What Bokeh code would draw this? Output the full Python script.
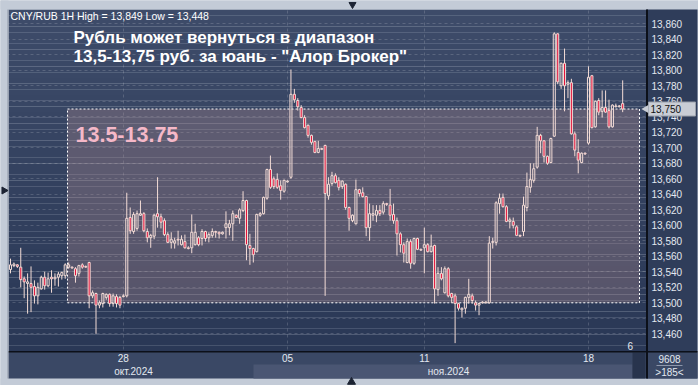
import numpy as np
from bokeh.plotting import figure
from bokeh.models import Range1d, FixedTicker, Grid, Label
from bokeh.core.properties import value
from bokeh.embed import file_html
from bokeh.resources import INLINE

# ---------------- data (CNY/RUB, 1H candles) ----------------
open_ = [13.543, 13.548, 13.549, 13.546, 13.531, 13.525, 13.525, 13.521, 13.509, 13.518,
         13.533, 13.522, 13.533, 13.531, 13.533, 13.535, 13.535, 13.546, 13.546, 13.544,
         13.538, 13.549, 13.547, 13.552, 13.509, 13.512, 13.497, 13.499, 13.507, 13.511,
         13.499, 13.508, 13.507, 13.508, 13.509, 13.610, 13.592, 13.596, 13.613, 13.615,
         13.592, 13.584, 13.586, 13.615, 13.611, 13.606, 13.588, 13.578, 13.577, 13.582,
         13.575, 13.579, 13.571, 13.571, 13.575, 13.584, 13.583, 13.592, 13.584, 13.587,
         13.592, 13.591, 13.589, 13.597, 13.597, 13.602, 13.613, 13.609, 13.619, 13.632,
         13.574, 13.570, 13.566, 13.613, 13.615, 13.635, 13.672, 13.660, 13.659, 13.651,
         13.644, 13.656, 13.662, 13.769, 13.761, 13.752, 13.739, 13.729, 13.716, 13.708,
         13.694, 13.699, 13.703, 13.638, 13.654, 13.664, 13.658, 13.650, 13.653, 13.623,
         13.606, 13.602, 13.646, 13.642, 13.637, 13.597, 13.613, 13.613, 13.619, 13.617,
         13.628, 13.626, 13.614, 13.606, 13.589, 13.575, 13.552, 13.579, 13.551, 13.583,
         13.569, 13.571, 13.575, 13.566, 13.574, 13.517, 13.538, 13.513, 13.544, 13.512,
         13.509, 13.499, 13.491, 13.493, 13.507, 13.509, 13.500, 13.497, 13.500, 13.500,
         13.500, 13.578, 13.578, 13.628, 13.636, 13.624, 13.605, 13.605, 13.598, 13.587,
         13.592, 13.623, 13.649, 13.658, 13.675, 13.716, 13.709, 13.689, 13.681, 13.715,
         13.847, 13.780, 13.809, 13.782, 13.784, 13.718, 13.694, 13.681, 13.693, 13.706,
         13.793, 13.727, 13.761, 13.747, 13.752, 13.748, 13.727, 13.753, 13.753, 13.757]
high = [13.557, 13.552, 13.550, 13.571, 13.534, 13.538, 13.547, 13.529, 13.526, 13.535,
        13.540, 13.539, 13.542, 13.538, 13.540, 13.540, 13.551, 13.552, 13.547, 13.546,
        13.549, 13.551, 13.548, 13.553, 13.516, 13.513, 13.503, 13.513, 13.512, 13.512,
        13.512, 13.511, 13.509, 13.511, 13.642, 13.623, 13.617, 13.619, 13.632, 13.617,
        13.596, 13.589, 13.615, 13.662, 13.615, 13.609, 13.591, 13.591, 13.584, 13.593,
        13.587, 13.588, 13.573, 13.614, 13.602, 13.586, 13.595, 13.593, 13.591, 13.596,
        13.593, 13.592, 13.592, 13.618, 13.607, 13.619, 13.614, 13.622, 13.644, 13.633,
        13.589, 13.571, 13.615, 13.617, 13.637, 13.673, 13.690, 13.663, 13.667, 13.658,
        13.659, 13.658, 13.801, 13.776, 13.764, 13.755, 13.742, 13.730, 13.717, 13.709,
        13.709, 13.700, 13.704, 13.662, 13.669, 13.667, 13.662, 13.658, 13.654, 13.624,
        13.614, 13.659, 13.647, 13.649, 13.638, 13.628, 13.626, 13.626, 13.626, 13.631,
        13.629, 13.647, 13.628, 13.610, 13.591, 13.578, 13.583, 13.582, 13.584, 13.584,
        13.570, 13.597, 13.577, 13.588, 13.575, 13.546, 13.546, 13.547, 13.546, 13.513,
        13.512, 13.500, 13.494, 13.508, 13.531, 13.512, 13.503, 13.500, 13.502, 13.502,
        13.586, 13.584, 13.631, 13.641, 13.641, 13.626, 13.610, 13.610, 13.600, 13.588,
        13.637, 13.668, 13.680, 13.680, 13.727, 13.718, 13.710, 13.690, 13.713, 13.849,
        13.848, 13.810, 13.828, 13.787, 13.789, 13.721, 13.711, 13.694, 13.694, 13.805,
        13.794, 13.761, 13.764, 13.774, 13.774, 13.762, 13.756, 13.757, 13.755, 13.787]
low = [13.538, 13.546, 13.545, 13.520, 13.506, 13.486, 13.488, 13.499, 13.498, 13.517,
       13.517, 13.520, 13.513, 13.522, 13.521, 13.530, 13.531, 13.544, 13.544, 13.526,
       13.534, 13.544, 13.545, 13.493, 13.506, 13.460, 13.493, 13.494, 13.504, 13.495,
       13.495, 13.494, 13.493, 13.507, 13.507, 13.589, 13.589, 13.593, 13.612, 13.591,
       13.578, 13.571, 13.582, 13.597, 13.596, 13.586, 13.577, 13.570, 13.570, 13.574,
       13.574, 13.570, 13.569, 13.564, 13.574, 13.573, 13.574, 13.579, 13.578, 13.584,
       13.584, 13.583, 13.588, 13.583, 13.587, 13.580, 13.609, 13.602, 13.617, 13.555,
       13.549, 13.552, 13.565, 13.611, 13.614, 13.633, 13.647, 13.647, 13.647, 13.633,
       13.642, 13.655, 13.660, 13.758, 13.748, 13.738, 13.725, 13.713, 13.704, 13.693,
       13.693, 13.697, 13.509, 13.633, 13.651, 13.654, 13.645, 13.647, 13.620, 13.593,
       13.604, 13.601, 13.637, 13.636, 13.586, 13.580, 13.606, 13.604, 13.612, 13.614,
       13.625, 13.606, 13.602, 13.561, 13.565, 13.552, 13.551, 13.544, 13.549, 13.568,
       13.567, 13.538, 13.565, 13.565, 13.499, 13.509, 13.529, 13.512, 13.507, 13.500,
       13.448, 13.490, 13.481, 13.486, 13.499, 13.499, 13.490, 13.484, 13.499, 13.499,
       13.499, 13.570, 13.574, 13.615, 13.623, 13.604, 13.596, 13.596, 13.586, 13.585,
       13.586, 13.618, 13.642, 13.655, 13.673, 13.693, 13.681, 13.678, 13.680, 13.714,
       13.782, 13.776, 13.747, 13.764, 13.717, 13.689, 13.667, 13.680, 13.691, 13.704,
       13.725, 13.726, 13.742, 13.739, 13.745, 13.725, 13.726, 13.752, 13.752, 13.746]
close = [13.549, 13.550, 13.547, 13.530, 13.527, 13.527, 13.520, 13.509, 13.520, 13.533,
         13.522, 13.531, 13.531, 13.533, 13.537, 13.539, 13.549, 13.549, 13.545, 13.535,
         13.548, 13.546, 13.546, 13.509, 13.513, 13.497, 13.500, 13.512, 13.511, 13.499,
         13.509, 13.499, 13.497, 13.509, 13.609, 13.593, 13.614, 13.615, 13.615, 13.593,
         13.584, 13.587, 13.613, 13.611, 13.604, 13.588, 13.578, 13.582, 13.580, 13.581,
         13.582, 13.571, 13.570, 13.591, 13.591, 13.575, 13.592, 13.583, 13.588, 13.592,
         13.591, 13.589, 13.591, 13.602, 13.602, 13.615, 13.610, 13.620, 13.632, 13.575,
         13.570, 13.562, 13.614, 13.615, 13.636, 13.672, 13.649, 13.650, 13.649, 13.645,
         13.658, 13.657, 13.769, 13.762, 13.753, 13.739, 13.726, 13.716, 13.707, 13.694,
         13.699, 13.698, 13.641, 13.653, 13.664, 13.655, 13.649, 13.657, 13.623, 13.609,
         13.613, 13.646, 13.641, 13.637, 13.597, 13.615, 13.615, 13.619, 13.615, 13.628,
         13.627, 13.613, 13.606, 13.589, 13.575, 13.564, 13.579, 13.551, 13.583, 13.569,
         13.568, 13.575, 13.566, 13.573, 13.518, 13.538, 13.531, 13.544, 13.509, 13.507,
         13.499, 13.493, 13.493, 13.507, 13.511, 13.503, 13.497, 13.499, 13.501, 13.501,
         13.577, 13.579, 13.629, 13.635, 13.624, 13.605, 13.607, 13.600, 13.587, 13.586,
         13.626, 13.650, 13.659, 13.673, 13.716, 13.709, 13.689, 13.680, 13.712, 13.847,
         13.785, 13.809, 13.780, 13.784, 13.718, 13.697, 13.684, 13.693, 13.692, 13.791,
         13.726, 13.760, 13.746, 13.752, 13.746, 13.727, 13.755, 13.754, 13.754, 13.750]

y_ticks = [13.46, 13.48, 13.50, 13.52, 13.54, 13.56, 13.58, 13.60, 13.62, 13.64, 13.66,
           13.68, 13.70, 13.72, 13.74, 13.76, 13.78, 13.80, 13.82, 13.84, 13.86]
day_ticks = [33, 81, 121, 169]
day_labels = ["28", "05", "11", "18"]
month_labels = ["окт.2024", "ноя.2024"]
range_low, range_high = 13.50, 13.75
last_price = 13.750
header = "CNY/RUB 1H High = 13,849 Low = 13,448"
title_1 = "Рубль может вернуться в диапазон"
title_2 = "13,5-13,75 руб. за юань - \"Алор Брокер\""
range_text = "13.5-13.75"

# ---------------- layout helpers (canvas px -> data) ----------------
def cx(px):
    return (px - 10) / 3.42

def cy(py):
    return 13.890 - 0.00129 * py

DPY = 0.00129  # price per pixel
FONT = "Liberation Sans"
LIGHT = "#c3cbd7"
TXT = "#e3e8f0"
DARKLINE = "#0c1019"

p = figure(width=698, height=385, output_backend="svg", toolbar_location=None,
           x_range=Range1d(cx(0), cx(698)), y_range=Range1d(cy(385), cy(0)),
           x_axis_location=None, y_axis_location=None,
           min_border=0, min_border_left=0, min_border_right=0,
           min_border_top=0, min_border_bottom=0)
p.border_fill_color = LIGHT
p.background_fill_color = LIGHT
p.outline_line_color = None
# drop the default grids; custom ones are added below
p.center = [r for r in p.center if not isinstance(r, Grid)]

# gradient background of the chart area (under the grid)
n = 60
edges = np.linspace(cy(9), cy(351), n + 1)
c_top = np.array([62, 76, 106]); c_bot = np.array([42, 56, 86])
cols = ["#%02x%02x%02x" % tuple((c_top + (c_bot - c_top) * (k + 0.5) / n).astype(int)) for k in range(n)]
p.quad(left=cx(8), right=cx(646), top=edges[:-1], bottom=edges[1:], fill_color=cols,
       line_color=None, level="image")

# grids
for dim, ticks in ((0, day_ticks), (1, y_ticks)):
    p.add_layout(Grid(dimension=dim, ticker=FixedTicker(ticks=ticks), grid_line_color="#ffffff",
                      grid_line_alpha=0.16, grid_line_dash="3 3"))

# panels around the chart (cover grid outside the chart area)
def panel(x0, x1, y0, y1, color):
    p.quad(left=cx(x0), right=cx(x1), top=cy(y0), bottom=cy(y1), fill_color=color,
           line_color=None)

panel(-2, 8, -2, 390, LIGHT)
panel(-2, 700, -2, 9, LIGHT)
panel(697, 700, -2, 390, LIGHT)
panel(-2, 700, 378, 390, LIGHT)
panel(646, 697, 9, 378, "#2f3d5a")
panel(8, 646, 351, 378, "#3a4865")
panel(253, 632, 364, 378, "#4a5673")
panel(632, 645, 352, 378, "#28344d")
panel(646, 697, 352, 378, "#3a4865")
panel(645.5, 647.5, 9, 378, DARKLINE)
panel(8, 697, 350.5, 352, DARKLINE)
panel(656, 682, 364.5, 365.5, "#8c96aa")
panel(7, 8, 9, 378, "#8d96a6")

# range box
p.quad(left=cx(67), right=cx(639), bottom=range_low, top=range_high,
       fill_color="#b99196", fill_alpha=0.3, line_color="#ffffff", line_dash="2 2", line_width=1)

# candles
o = np.array(open_); h = np.array(high); l = np.array(low); c = np.array(close)
idx = np.arange(len(c))
top = np.maximum(o, c); bot = np.minimum(o, c)
up = c >= o
WICK = "#f3dcd6"
p.segment(idx, top, idx, h, line_color=WICK, line_width=1)
p.segment(idx, l, idx, bot, line_color=WICK, line_width=1)
p.vbar(x=idx[up], top=top[up], bottom=bot[up], width=0.6, fill_alpha=0,
       line_color=WICK, line_width=1)
p.vbar(x=idx[~up], top=top[~up], bottom=bot[~up], width=0.6, fill_color="#e3143d",
       line_color=WICK, line_width=1)

# price scale labels (right) and date labels (bottom)
y_labels = [f"{t:.3f}".replace(".", ",") for t in y_ticks]
p.text(x=cx(651), y=y_ticks, text=y_labels, text_font=value(FONT), text_font_size="10px",
       text_color=TXT, text_baseline="middle", text_align="left")
p.text(x=day_ticks, y=cy(357), text=day_labels, text_font=value(FONT), text_font_size="10px",
       text_color=TXT, text_baseline="middle", text_align="center")
p.text(x=[cx(133), cx(448)], y=cy(371), text=month_labels, text_font=value(FONT),
       text_font_size="10px", text_color=TXT, text_baseline="middle", text_align="center")
p.text(x=cx(669), y=[cy(358), cy(372)], text=["9608", ">185<"], text_font=value(FONT),
       text_font_size="10px", text_color=TXT, text_baseline="middle", text_align="center")
p.text(x=cx(627), y=cy(345), text=["6"], text_font=value(FONT), text_font_size="10px",
       text_color=TXT, text_baseline="middle", text_align="left")

# last price tag
p.quad(left=cx(648), right=cx(695), top=last_price + 7 * DPY, bottom=last_price - 7 * DPY,
       fill_color="#c9cdd5", line_color="#9aa0ab", line_width=1)
p.scatter(x=[cx(645.5)], y=[last_price], marker="triangle", angle=np.pi / 2, size=8,
          fill_color="#c9cdd5", line_color=None)
p.text(x=cx(650), y=last_price, text=["13,750"], text_font=value(FONT), text_font_size="10px",
       text_color="#111111", text_baseline="middle", text_align="left")

# small navigation triangles of the frame
p.scatter(x=[cx(352)], y=[cy(4)], marker="inverted_triangle", size=7, color="#1c2333")
p.scatter(x=[cx(351)], y=[cy(381.5)], marker="triangle", size=8, color="#1c2333")
p.scatter(x=[cx(3.5)], y=[cy(190)], marker="triangle", angle=-np.pi / 2, size=7, color="#1c2333")

# texts
def label(px, py, text, size, color=TXT, bold=False, baseline="middle"):
    p.add_layout(Label(x=cx(px), y=cy(py), text=text, text_font=FONT, text_font_size=size,
                       text_color=color, text_font_style="bold" if bold else "normal",
                       text_align="left", text_baseline=baseline))

label(10, 15, header, "10.5px", "#ffffff")
label(73, 37, title_1, "17px", "#ffffff", bold=True, baseline="alphabetic")
label(73, 56, title_2, "17px", "#ffffff", bold=True, baseline="alphabetic")
p.add_layout(Label(x=cx(75), y=range_high, y_offset=-25, text=range_text, text_font=FONT,
                   text_font_size="21.5px", text_font_style="bold", text_color="#f5b8c8",
                   text_baseline="alphabetic"))

open("out.html", "w").write(file_html(p, INLINE))
